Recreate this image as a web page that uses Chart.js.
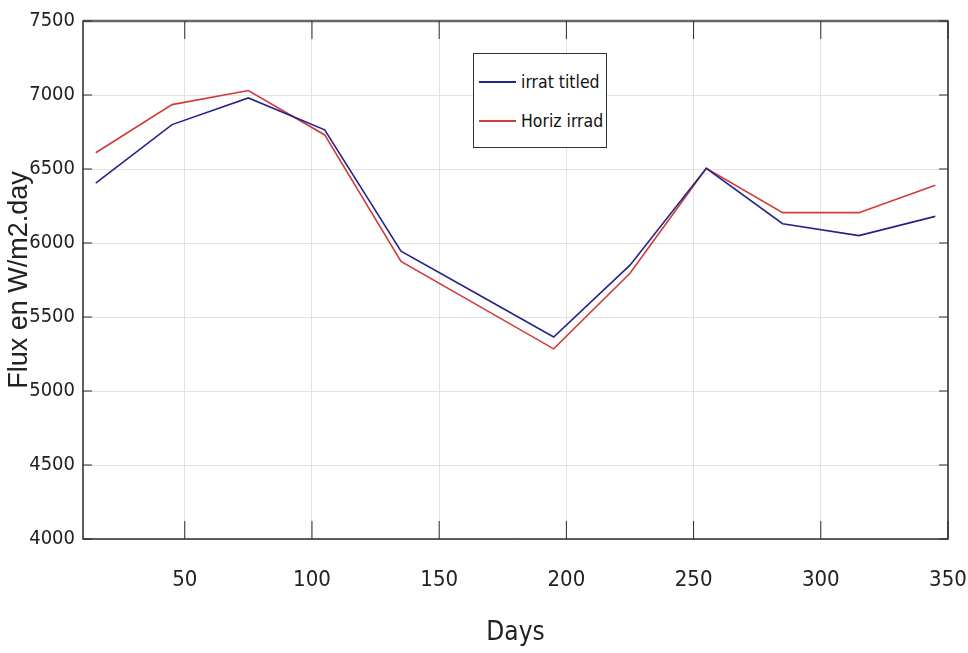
<!DOCTYPE html>
<html lang="fr">
  <head>
    <meta charset="UTF-8" />
    <title>Flux en W/m2.day</title>
    <script src="https://cdn.jsdelivr.net/npm/chart.js"></script>
    <style>
      body {
        margin: 0;
        background: #fff;
      }
      .container {
        position: relative;
        width: 968px;
        height: 653px;
      }
      .legende {
        position: absolute;
        left: 473px;
        top: 53px;
        width: 132px;
        height: 93px;
        border: 1px solid #333;
        background: #fff;
        font-family: "Liberation Sans Narrow", "DejaVu Sans Condensed", Arial, sans-serif;
        font-size: 17.5px;
        color: #111;
      }
      .legende div {
        position: absolute;
        left: 5px;
        display: flex;
        align-items: center;
        gap: 5px;
        white-space: nowrap;
      }
      .legende span.trait {
        display: inline-block;
        width: 37px;
        height: 2px;
      }
    </style>
  </head>
  <body>
    <div class="container">
      <canvas id="graficoFlux"></canvas>
      <div class="legende">
        <div style="top: 18px"><span class="trait" style="background: #23238a"></span>irrat titled</div>
        <div style="top: 57px"><span class="trait" style="background: #d23a3a"></span>Horiz irrad</div>
      </div>
    </div>

    <script>
      const jours = [15, 45, 75, 105, 135, 165, 195, 225, 255, 285, 315, 345];
      const irratTitled = [6405, 6800, 6980, 6765, 5945, 5655, 5365, 5850, 6505, 6130, 6050, 6180];
      const horizIrrad = [6610, 6935, 7030, 6730, 5875, 5580, 5285, 5795, 6505, 6205, 6205, 6390];
      const ticksX = [50, 100, 150, 200, 250, 300, 350];
      const ticksY = [4000, 4500, 5000, 5500, 6000, 6500, 7000, 7500];

      const fonteEtroite = "'Liberation Sans Narrow', 'DejaVu Sans Condensed', Arial, sans-serif";

      // cadre + petits traits de graduation vers l'intérieur (style matlab)
      const cadre = {
        id: "cadre",
        afterDraw(chart) {
          const { ctx, chartArea: a, scales } = chart;
          ctx.save();
          ctx.strokeStyle = "#2b2b2b";
          ctx.lineWidth = 1.5;
          ctx.strokeRect(a.left, a.top, a.right - a.left, a.bottom - a.top);
          ctx.strokeStyle = "#666";
          ctx.lineWidth = 2.5;
          ctx.beginPath();
          ctx.moveTo(a.left, a.top);
          ctx.lineTo(a.right, a.top);
          ctx.stroke();
          ctx.strokeStyle = "#2b2b2b";
          ctx.lineWidth = 1;
          ctx.beginPath();
          ticksX.forEach((v) => {
            const x = scales.x.getPixelForValue(v);
            ctx.moveTo(x, a.bottom);
            ctx.lineTo(x, a.bottom - 18);
            ctx.moveTo(x, a.top);
            ctx.lineTo(x, a.top + 18);
          });
          ticksY.forEach((v) => {
            const y = scales.y.getPixelForValue(v);
            ctx.moveTo(a.left, y);
            ctx.lineTo(a.left + 9, y);
            ctx.moveTo(a.right, y);
            ctx.lineTo(a.right - 9, y);
          });
          ctx.stroke();
          ctx.restore();
        },
      };

      const ctx = document.getElementById("graficoFlux").getContext("2d");
      new Chart(ctx, {
        type: "line",
        data: {
          datasets: [
            {
              label: "irrat titled",
              data: jours.map((d, i) => ({ x: d, y: irratTitled[i] })),
              borderColor: "#23238a",
              borderWidth: 1.6,
              pointRadius: 0,
              tension: 0,
            },
            {
              label: "Horiz irrad",
              data: jours.map((d, i) => ({ x: d, y: horizIrrad[i] })),
              borderColor: "#d23a3a",
              borderWidth: 1.6,
              pointRadius: 0,
              tension: 0,
            },
          ],
        },
        options: {
          responsive: true,
          maintainAspectRatio: false,
          animation: false,
          layout: { padding: { top: 21, right: 20, left: 0, bottom: 0 } },
          plugins: {
            legend: { display: false },
            tooltip: { enabled: false },
          },
          scales: {
            x: {
              type: "linear",
              min: 10,
              max: 350,
              afterBuildTicks: (s) => {
                s.ticks = ticksX.map((v) => ({ value: v }));
              },
              afterFit: (s) => {
                s.height = 114;
                s.paddingLeft = 0;
                s.paddingRight = 0;
              },
              grid: { color: "#e2e2e2", drawTicks: false },
              border: { display: false },
              ticks: {
                padding: 28,
                color: "#222",
                font: { family: fonteEtroite, size: 22 },
                callback: (v) => String(v),
              },
              title: {
                display: true,
                text: "Days",
                color: "#222",
                padding: { bottom: 4 },
                font: { family: fonteEtroite, size: 26 },
              },
            },
            y: {
              min: 4000,
              max: 7500,
              afterBuildTicks: (s) => {
                s.ticks = ticksY.map((v) => ({ value: v }));
              },
              afterFit: (s) => {
                s.width = 83;
                s.paddingTop = 0;
                s.paddingBottom = 0;
              },
              grid: { color: "#e2e2e2", drawTicks: false },
              border: { display: false },
              ticks: {
                padding: 8,
                color: "#222",
                font: { family: fonteEtroite, size: 20 },
                callback: (v) => String(v),
              },
              title: {
                display: true,
                text: "Flux en W/m2.day",
                color: "#222",
                padding: { top: 3 },
                font: { family: "'Liberation Sans', Arial, sans-serif", size: 27 },
              },
            },
          },
        },
        plugins: [cadre],
      });
    </script>
  </body>
</html>
